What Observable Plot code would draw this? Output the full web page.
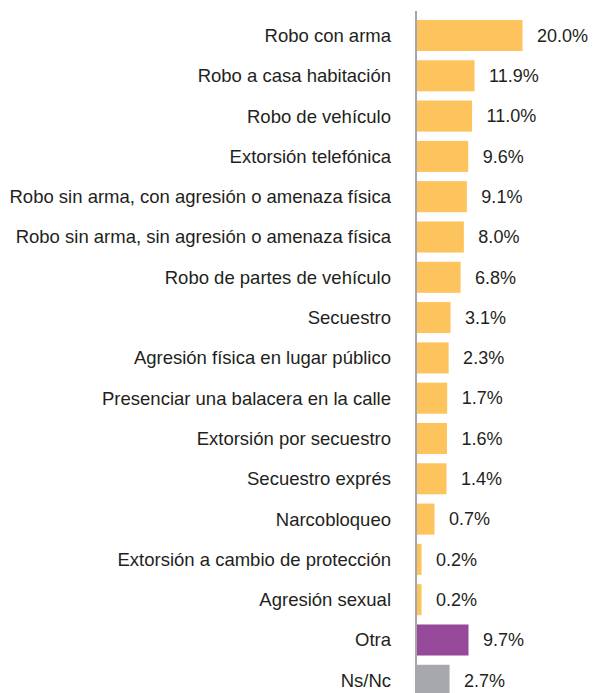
<!DOCTYPE html>
<html>
<head>
<meta charset="utf-8">
<script src="https://cdn.jsdelivr.net/npm/d3@7"></script>
<script src="https://cdn.jsdelivr.net/npm/@observablehq/plot@0.6"></script>
<style>
  html, body { margin: 0; padding: 0; background: #fff; overflow: hidden; }
</style>
</head>
<body>
<div id="chart"></div>
<script>
const categories = [
  "Robo con arma",
  "Robo a casa habitación",
  "Robo de vehículo",
  "Extorsión telefónica",
  "Robo sin arma, con agresión o amenaza física",
  "Robo sin arma, sin agresión o amenaza física",
  "Robo de partes de vehículo",
  "Secuestro",
  "Agresión física en lugar público",
  "Presenciar una balacera en la calle",
  "Extorsión por secuestro",
  "Secuestro exprés",
  "Narcobloqueo",
  "Extorsión a cambio de protección",
  "Agresión sexual",
  "Otra",
  "Ns/Nc"
];
const values = [20.0, 11.9, 11.0, 9.6, 9.1, 8.0, 6.8, 3.1, 2.3, 1.7, 1.6, 1.4, 0.7, 0.2, 0.2, 9.7, 2.7];
const groups = ["delito","delito","delito","delito","delito","delito","delito","delito","delito","delito","delito","delito","delito","delito","delito","otra","nsnc"];
const groupNames = ["delito", "otra", "nsnc"];
const groupColors = ["#fdc35c", "#964899", "#a7a8ac"];

const data = categories.map((c, i) => ({category: c, value: values[i], group: groups[i]}));

// The original chart's bar lengths are not proportional; reproduce its axis with a piecewise scale
const x0 = 416.5;
const xKnots = [0, 0.2, 0.7, 1.4, 3.1, 11.9, 20];
const xKnotWidths = [0, 5, 18, 30, 34, 58, 106];

const chart = Plot.plot({
  width: 595,
  height: 700,
  marginLeft: 416,
  marginRight: 72,
  marginTop: 11,
  marginBottom: 0,
  style: {fontFamily: "'Liberation Sans', Arial, sans-serif", fontSize: "18px", color: "#231f20", background: "#fff"},
  x: {type: "linear", domain: xKnots, range: xKnotWidths.map(w => x0 + w), axis: null},
  y: {domain: categories, range: [15.35, 700.45], paddingInner: 0.23, paddingOuter: 0.115, round: false, axis: null},
  color: {domain: groupNames, range: groupColors},
  marks: [
    Plot.barX(data, {x: "value", y: "category", fill: "group"}),
    Plot.ruleX([0], {stroke: "#a6a6a9", strokeWidth: 2, dx: -1}),
    Plot.text(data, {x: "value", y: "category", text: d => d.value.toFixed(1) + "%", textAnchor: "start", dx: 14, fontSize: 18, fill: "#231f20"}),
    Plot.text(data, {x: 0, y: "category", text: "category", textAnchor: "end", dx: -26, fontSize: 18.5, fill: "#231f20"})
  ]
});
document.getElementById("chart").appendChild(chart);
</script>
</body>
</html>
